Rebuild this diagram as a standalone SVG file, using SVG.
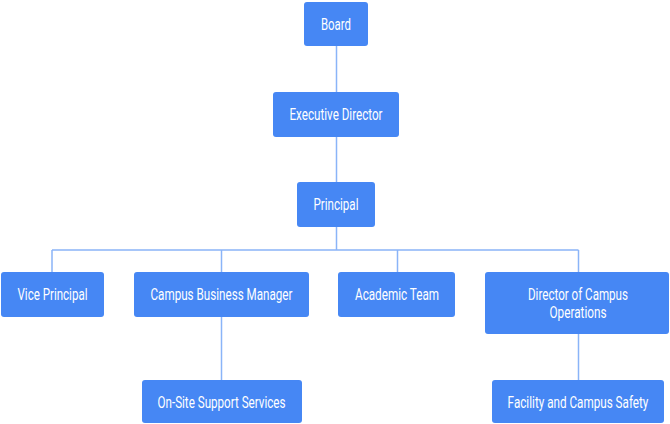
<svg xmlns="http://www.w3.org/2000/svg" width="670" height="424" viewBox="0 0 670 424">
<style>
.box{fill:#4687f4;}
.t{font-family:Roboto,"Liberation Sans",sans-serif;font-size:16px;fill:#ffffff;text-anchor:middle;}
.c{stroke:#8ab4f8;stroke-width:1.5;fill:none;}
</style>
<rect width="670" height="424" fill="#ffffff"/>
<g id="connectors">
<path class="c" d="M336.5 46V92M336.5 137V182M336.5 227V250M52 250H578.5M52 250V272M221.5 250V272M397.5 250V272M578.5 250V272M221.5 317V380M578.5 334V380"/>
</g>
<g id="board"><rect class="box" x="304" y="2" width="64" height="44" rx="3"/><text class="t" x="336" y="29.5" textLength="30" lengthAdjust="spacingAndGlyphs">Board</text></g>
<g id="executive-director"><rect class="box" x="273" y="92" width="126" height="45" rx="3"/><text class="t" x="336" y="120" textLength="93" lengthAdjust="spacingAndGlyphs">Executive Director</text></g>
<g id="principal"><rect class="box" x="297" y="182" width="78" height="45" rx="3"/><text class="t" x="336" y="210" textLength="45" lengthAdjust="spacingAndGlyphs">Principal</text></g>
<g id="vice-principal"><rect class="box" x="1" y="272" width="103" height="45" rx="3"/><text class="t" x="52.5" y="300" textLength="70" lengthAdjust="spacingAndGlyphs">Vice Principal</text></g>
<g id="campus-business-manager"><rect class="box" x="134" y="272" width="175" height="45" rx="3"/><text class="t" x="221.5" y="300" textLength="142" lengthAdjust="spacingAndGlyphs">Campus Business Manager</text></g>
<g id="academic-team"><rect class="box" x="338" y="272" width="117" height="45" rx="3"/><text class="t" x="397" y="300" textLength="84" lengthAdjust="spacingAndGlyphs">Academic Team</text></g>
<g id="director-campus-operations"><rect class="box" x="485" y="272" width="184" height="62" rx="3"/><text class="t" x="578" y="299.5" textLength="100" lengthAdjust="spacingAndGlyphs">Director of Campus</text><text class="t" x="578" y="317.5" textLength="57" lengthAdjust="spacingAndGlyphs">Operations</text></g>
<g id="on-site-support"><rect class="box" x="142" y="380" width="160" height="43" rx="3"/><text class="t" x="221.5" y="407.5" textLength="128" lengthAdjust="spacingAndGlyphs">On-Site Support Services</text></g>
<g id="facility-safety"><rect class="box" x="492" y="380" width="172" height="43" rx="3"/><text class="t" transform="translate(578 407.5) scale(0.8 1)" x="0" y="0" textLength="176" lengthAdjust="spacingAndGlyphs">Facility and Campus Safety</text></g>
</svg>
